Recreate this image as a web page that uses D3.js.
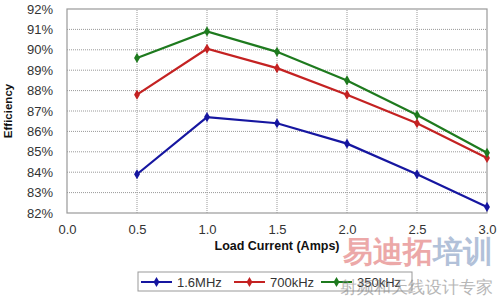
<html>
<head>
<script src="https://d3js.org/d3.v7.min.js"></script>
<style>
body { margin: 0; background: #fff; }
text { font-family: Arial, "Liberation Sans", sans-serif; }
</style>
</head>
<body>
<svg width=498 height=302></svg>
<script>
var current = [0.5, 1.0, 1.5, 2.0, 2.5, 3.0];
var eff16MHz = [83.9, 86.7, 86.4, 85.4, 83.9, 82.3];
var eff700kHz = [87.8, 90.05, 89.1, 87.8, 86.4, 84.7];
var eff350kHz = [89.6, 90.9, 89.9, 88.5, 86.8, 84.95];
var seriesNames = ["1.6MHz", "700kHz", "350kHz"];
var xTicks = [0, 0.5, 1, 1.5, 2, 2.5, 3];
var yTicks = [82, 83, 84, 85, 86, 87, 88, 89, 90, 91, 92];

var colors = ["#1616a0", "#c42222", "#1e7a1e"];
var allSeries = [eff16MHz, eff700kHz, eff350kHz];

var svg = d3.select("svg");
var x = d3.scaleLinear().domain([0, 3]).range([67, 487]);
var y = d3.scaleLinear().domain([82, 92]).range([213, 9]);

// grid
svg.append("g").selectAll("line").data(yTicks.slice(1, -1)).enter().append("line")
  .attr("x1", x(0)).attr("x2", x(3))
  .attr("y1", function(d) { return y(d); }).attr("y2", function(d) { return y(d); })
  .attr("stroke", "#999").attr("stroke-width", 1).attr("stroke-dasharray", "1,1");
svg.append("g").selectAll("line").data(xTicks.slice(1, -1)).enter().append("line")
  .attr("y1", y(82)).attr("y2", y(92))
  .attr("x1", function(d) { return x(d); }).attr("x2", function(d) { return x(d); })
  .attr("stroke", "#999").attr("stroke-width", 1).attr("stroke-dasharray", "1,1");

svg.append("rect").attr("x", x(0)).attr("y", y(92))
  .attr("width", x(3) - x(0)).attr("height", y(82) - y(92))
  .attr("fill", "none").attr("stroke", "#999").attr("stroke-width", 1.2);

// axes
var yAxis = d3.axisLeft(y).tickValues(yTicks).tickSize(0).tickPadding(14)
  .tickFormat(function(d) { return d + "%"; });
var gy = svg.append("g").attr("transform", "translate(" + x(0) + ",0)").call(yAxis);
var xAxis = d3.axisBottom(x).tickValues(xTicks).tickSize(0).tickPadding(12)
  .tickFormat(d3.format(".1f"));
var gx = svg.append("g").attr("transform", "translate(0," + y(82) + ")").call(xAxis);
[gx, gy].forEach(function(g) {
  g.select(".domain").remove();
  g.selectAll("text").attr("font-size", 13).attr("fill", "#333")
    .attr("font-family", "Arial, 'Liberation Sans', sans-serif");
});

// lines
var line = d3.line().x(function(d, i) { return x(current[i]); }).y(function(d) { return y(d); });
var diamond = d3.symbol().type(d3.symbolDiamond).size(30);
allSeries.forEach(function(s, k) {
  svg.append("path").datum(s).attr("d", line)
    .attr("fill", "none").attr("stroke", colors[k]).attr("stroke-width", 2.2);
  svg.append("g").selectAll("path").data(s).enter().append("path")
    .attr("d", diamond)
    .attr("transform", function(d, i) { return "translate(" + x(current[i]) + "," + y(d) + ")"; })
    .attr("fill", colors[k]);
});

// titles
svg.append("text").attr("transform", "translate(12,111) rotate(-90)")
  .attr("text-anchor", "middle").attr("font-size", 11.5).attr("font-weight", "bold")
  .attr("fill", "#111").text("Efficiency");
svg.append("text").attr("x", 277).attr("y", 250)
  .attr("text-anchor", "middle").attr("font-size", 12.5).attr("font-weight", "bold")
  .attr("fill", "#111").text("Load Current (Amps)");

// legend
svg.append("rect").attr("x", 138).attr("y", 272).attr("width", 274).attr("height", 19)
  .attr("fill", "#fff").attr("stroke", "#999");
var legX = [141, 234, 321];
seriesNames.forEach(function(n, k) {
  var g = svg.append("g").attr("transform", "translate(" + legX[k] + ",282)");
  g.append("line").attr("x1", 0).attr("x2", 31).attr("stroke", colors[k]).attr("stroke-width", 2);
  g.append("path").attr("d", diamond).attr("transform", "translate(15.5,0)").attr("fill", colors[k]);
  g.append("text").attr("x", 36).attr("y", 4.5).attr("font-size", 13).attr("fill", "#333").text(n);
});

// watermark
svg.append("text").attr("x", 343).attr("y", 262).attr("font-size", 30).attr("font-weight", "bold")
  .attr("font-family", "'Noto Sans CJK SC'").attr("fill", "#e07070").attr("opacity", 0.6).text("易迪拓");
svg.append("text").attr("x", 433).attr("y", 262).attr("font-size", 30).attr("font-weight", "bold")
  .attr("font-family", "'Noto Sans CJK SC'").attr("fill", "#7f98c0").attr("opacity", 0.6).text("培训");
svg.append("text").attr("x", 340).attr("y", 293).attr("font-size", 17)
  .attr("font-family", "'Noto Sans CJK SC'").attr("fill", "#888").attr("opacity", 0.6).text("射频和天线设计专家");
</script>
</body>
</html>
